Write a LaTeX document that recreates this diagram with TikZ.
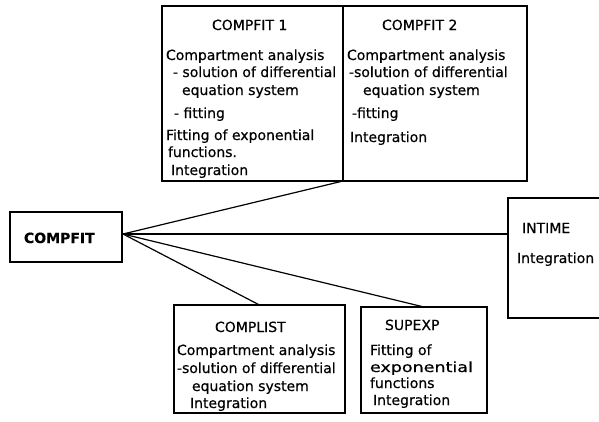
\documentclass[tikz,border=0pt]{standalone}
\usepackage{fontspec}
\setmainfont{DejaVu Sans}[FakeBold=0.5]
\begin{document}
\begin{tikzpicture}[x=1pt,y=-1pt]
\tikzset{
 box/.style={draw, line width=1.3pt, rectangle, inner sep=0pt, outer sep=0pt, anchor=north west},
 txt/.style={anchor=base west, inner sep=0pt, outer sep=0pt, font=\fontsize{14}{17}\selectfont},
 conn/.style={line width=1.2pt}
}
\useasboundingbox (0,0) rectangle (599,421);
% boxes
\node[box, minimum width=112pt, minimum height=50pt] (cf) at (10,212) {};
\node[box, minimum width=181pt, minimum height=175pt] (c1) at (162,6) {};
\node[box, minimum width=184pt, minimum height=175pt] (c2) at (343,6) {};
\node[box, minimum width=110pt, minimum height=120pt] (it) at (508,198) {};
\node[box, minimum width=171pt, minimum height=108pt] (cl) at (174,305) {};
\node[box, minimum width=126pt, minimum height=106pt] (se) at (361,307) {};
\coordinate (hub) at (123,234);
% connectors
\draw[conn] (hub) -- (c1.south east);
\draw[conn] (hub) -- (hub -| it.west);
\draw[conn] (hub) -- (se.north);
\draw[conn] (hub) -- (cl.north);
% COMPFIT
\node[txt, font=\fontsize{14}{17}\selectfont\bfseries] (cft) at (24,243) {COMPFIT};
% COMPFIT 1
\node[txt] (c1t) at (212,30) {COMPFIT 1};
\node[txt] (c1a) at (166,60) {Compartment analysis};
\node[txt] (c1b) at (173,77) {- solution of differential};
\node[txt] (c1c) at (182,95) {equation system};
\node[txt] (c1d) at (174,118) {- fitting};
\node[txt] (c1e) at (166,140) {Fitting of exponential};
\node[txt] (c1f) at (168,157) {functions.};
\node[txt] (c1g) at (171,175) {Integration};
% COMPFIT 2
\node[txt] (c2t) at (382,30) {COMPFIT 2};
\node[txt] (c2a) at (347,60) {Compartment analysis};
\node[txt] (c2b) at (349,77) {-solution of differential};
\node[txt] (c2c) at (363,95) {equation system};
\node[txt] (c2d) at (352,118) {-fitting};
\node[txt] (c2e) at (350,142) {Integration};
% INTIME
\node[txt] (itt) at (522,233) {INTIME};
\node[txt] (ita) at (517,263) {Integration};
% COMPLIST
\node[txt] (clt) at (215,332) {COMPLIST};
\node[txt] (cla) at (177,355) {Compartment analysis};
\node[txt] (clb) at (177,373) {-solution of differential};
\node[txt] (clc) at (192,391) {equation system};
\node[txt] (cld) at (190,408) {Integration};
% SUPEXP
\node[txt] (set) at (385,330) {SUPEXP};
\node[txt] (sea) at (370,355) {Fitting of};
\node[txt] (seb) at (370,372) {\scalebox{1.25}[1]{exponential}};
\node[txt] (sec) at (370,388) {functions};
\node[txt] (sed) at (373,405) {Integration};
\end{tikzpicture}
\end{document}
